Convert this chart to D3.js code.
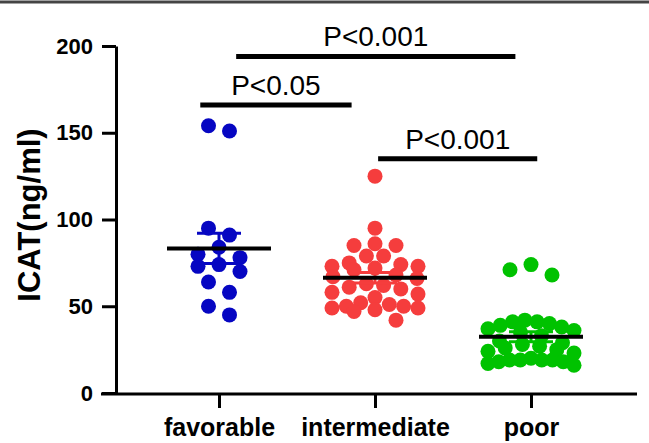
<!DOCTYPE html>
<html><head><meta charset="utf-8">
<script src="https://cdn.jsdelivr.net/npm/d3@7"></script>
<style>
body{margin:0;background:#fff;}
svg{display:block;font-family:"Liberation Sans",Arial,sans-serif;}
</style></head><body>
<svg width="649" height="443"></svg>
<script>
const categories = ["favorable","intermediate","poor"];
const favorable = [154,151,95,91,84,80,78,74,73,70,64,58,50,45];
const intermediate = [125,95,86,85,85,79,79,75,74,73,73,72,71,68,67,66,63,62,61,60,58,57,55,52,51,50,50,49,49,48,47,42];
const poor = [74,71,68,42,41,41,40,39,38,37,36,35,33,30,29,28,27,26,25,24,23,20,19,19,19,19,18,18,17,16];
const yTicks = [0,50,100,150,200];
// significance brackets (category index units / data units)
const pLabels = ["P<0.05","P<0.001","P<0.001"];
const pFrom = [-0.12, 0.11, 1.02];
const pTo = [0.85, 1.9, 2.04];
const pLevel = [166, 194, 135];
const dotColors = ["#0606c2","#f53d3d","#00c200"];

const series = [favorable, intermediate, poor];

const svg = d3.select("svg");
const y = d3.scaleLinear().domain([0,200]).range([393,46]);
const x = d3.scalePoint().domain(categories).range([219,531]);
const xi = d3.scaleLinear().domain([0,2]).range([219,531]);

// top border
svg.append("line").attr("x1",0).attr("x2",649).attr("y1",2).attr("y2",2)
  .attr("stroke","#444").attr("stroke-width",3);

// prism-like scatter: group into rows, spread each row around the centre
function swarm(values, cx){
  const sorted = values.slice().sort((a,b)=>b-a);
  const rows = [];
  sorted.forEach(v=>{
    const last = rows[rows.length-1];
    if (last && y(v) - y(last[0]) <= 12) last.push(v);
    else rows.push([v]);
  });
  const pts = [];
  rows.forEach(row=>{
    const n = row.length;
    const sp = n > 1 ? Math.min(21, 86/(n-1)) : 0;
    // centre-out order of slots
    const slots = d3.range(n).sort((a,b)=>Math.abs(a-(n-1)/2)-Math.abs(b-(n-1)/2) || a-b);
    row.forEach((v,j)=>{
      pts.push({x: cx + (slots[j]-(n-1)/2)*sp, y: y(v), v: v});
    });
  });
  return pts;
}

series.forEach((vals,i)=>{
  const cx = x(categories[i]);
  const pts = swarm(vals, cx);
  svg.append("g").selectAll("circle").data(pts).enter().append("circle")
    .attr("cx",d=>d.x).attr("cy",d=>d.y).attr("r",7.5)
    .attr("fill",dotColors[i]);

  const m = d3.mean(vals);
  const sem = d3.deviation(vals)/Math.sqrt(vals.length);
  const g = svg.append("g").attr("stroke",dotColors[i]).attr("stroke-width",3);
  g.append("line").attr("x1",cx).attr("x2",cx).attr("y1",y(m+sem)).attr("y2",y(m-sem));
  g.append("line").attr("x1",cx-22).attr("x2",cx+22).attr("y1",y(m+sem)).attr("y2",y(m+sem));
  g.append("line").attr("x1",cx-22).attr("x2",cx+22).attr("y1",y(m-sem)).attr("y2",y(m-sem));
  svg.append("line").attr("x1",cx-52).attr("x2",cx+52).attr("y1",y(m)).attr("y2",y(m))
    .attr("stroke","#000").attr("stroke-width",4);
});

// axes
const yAxis = svg.append("g").attr("transform","translate(116,0)")
  .call(d3.axisLeft(y).tickValues(yTicks).tickSize(14).tickSizeOuter(0).tickPadding(9));
yAxis.select(".domain").attr("stroke-width",3);
yAxis.selectAll(".tick line").attr("stroke-width",3);
yAxis.selectAll("text").attr("font-size",22).attr("font-weight","bold")
  .attr("font-family","'Liberation Sans',Arial,sans-serif").attr("fill","#000");

const xAxis = svg.append("g").attr("transform","translate(0,394)")
  .call(d3.axisBottom(x).tickSize(14).tickPadding(10));
xAxis.select(".domain").remove();
xAxis.selectAll(".tick line").attr("stroke-width",3);
xAxis.selectAll("text").attr("font-size",25).attr("font-weight","bold")
  .attr("font-family","'Liberation Sans',Arial,sans-serif").attr("fill","#000");
svg.append("line").attr("x1",101).attr("x2",637).attr("y1",394).attr("y2",394)
  .attr("stroke","#000").attr("stroke-width",3);

// y title
svg.append("text").attr("transform","translate(40,215) rotate(-90)")
  .attr("text-anchor","middle").attr("font-size",31).attr("font-weight","bold")
  .text("ICAT(ng/ml)");

// significance
pLabels.forEach((t,i)=>{
  const x1 = xi(pFrom[i]), x2 = xi(pTo[i]), yy = y(pLevel[i]);
  svg.append("line").attr("x1",x1).attr("x2",x2).attr("y1",yy).attr("y2",yy)
    .attr("stroke","#000").attr("stroke-width",5);
  svg.append("text").attr("x",(x1+x2)/2).attr("y",yy-10)
    .attr("text-anchor","middle").attr("font-size",28).text(t);
});
</script>
</body></html>
